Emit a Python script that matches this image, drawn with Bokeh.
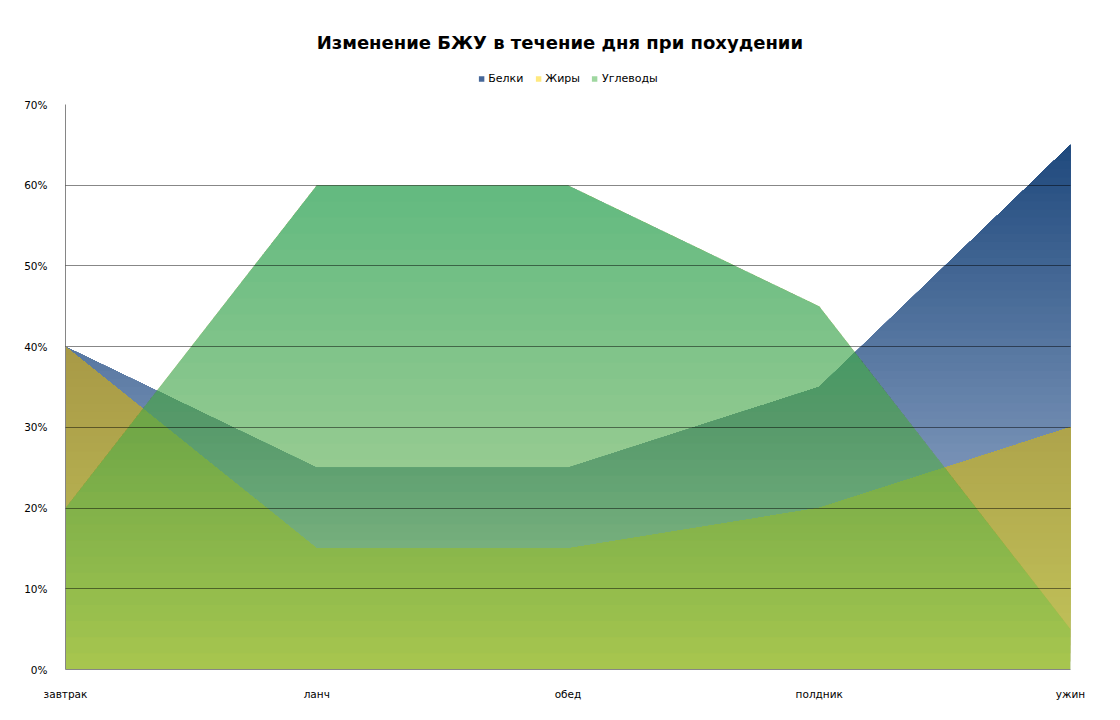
from bokeh.plotting import figure
from bokeh.layouts import column
from bokeh.models import FixedTicker, PrintfTickFormatter, Legend, LegendItem, Range1d, Label
from bokeh.embed import file_html
from bokeh.resources import INLINE

# ---- data ----
categories = ["завтрак", "ланч", "обед", "полдник", "ужин"]
series_names = ["Белки", "Жиры", "Углеводы"]
belki = [40, 25, 25, 35, 65]
zhiry = [40, 15, 15, 20, 30]
uglevody = [20, 60, 60, 45, 5]
y_ticks = [0, 10, 20, 30, 40, 50, 60, 70]
title_text = "Изменение БЖУ в течение дня при похудении"

# ---- styles ----
# opaque series: vertical gradient stops (y in %, r, g, b)
grad_belki = [(0, 176, 192, 218), (65, 31, 73, 125), (70, 31, 73, 125)]
grad_zhiry = [(0, 194, 196, 90), (40, 168, 153, 70), (70, 168, 153, 70)]
# translucent series: bottom colour/alpha and top colour/alpha
ugl_bottom = ((140, 200, 68), 0.50)
ugl_top = ((66, 176, 104), 0.72)
legend_colors = ["#466799", "#FFE97F", "#9FD7A0"]

FONT = "DejaVu Sans"
Y_MAX = 70
FRAME_H = 565
FRAME_W = 1005
W = 1112
HEAD_H = 94
step = 1.0       # layer step of the opaque gradients (in %)
ov_step = 2.0    # layer step of the translucent gradient (in %)


def grad_color(stops, y):
    for (y0, *c0), (y1, *c1) in zip(stops[:-1], stops[1:]):
        if y0 <= y <= y1:
            t = (y - y0) / (y1 - y0) if y1 > y0 else 0
            r, g, b = [a + (b_ - a) * t for a, b_ in zip(c0, c1)]
            return "#%02x%02x%02x" % (int(round(r)), int(round(g)), int(round(b)))
    r, g, b = stops[-1][1:]
    return "#%02x%02x%02x" % (r, g, b)


def band_polyline(xs, vs, lo, hi):
    px, py = [], []
    for i in range(len(xs)):
        if i > 0:
            x0, v0, x1, v1 = xs[i - 1], vs[i - 1], xs[i], vs[i]
            cross = []
            for lev in (lo, hi):
                if (v0 - lev) * (v1 - lev) < 0:
                    xc = x0 + (lev - v0) / (v1 - v0) * (x1 - x0)
                    cross.append((xc, lev))
            cross.sort()
            for xc, lev in cross:
                px.append(xc)
                py.append(lev)
        px.append(xs[i])
        py.append(min(max(vs[i], lo), hi))
    return px, py


# ---------------- header: title + legend ----------------
head = figure(width=W, height=HEAD_H, output_backend="svg", toolbar_location=None,
              x_range=Range1d(0, W), y_range=Range1d(0, HEAD_H),
              x_axis_type=None, y_axis_type=None, min_border=0)
head.outline_line_color = None
head.background_fill_color = "white"
head.border_fill_color = "white"
head.add_layout(Label(x=547, y=HEAD_H - 42, text=title_text, text_align="center",
                      text_baseline="middle", text_font=FONT, text_font_size="18px",
                      text_font_style="bold", text_color="#000000"))

xs = list(range(len(categories)))
items = []
for name, vals, col in zip(series_names, (belki, zhiry, uglevody), legend_colors):
    r = head.varea(x=xs, y1=vals, y2=vals, fill_color=col)
    items.append(LegendItem(label=name, renderers=[r]))
legend = Legend(items=items, orientation="horizontal", location="bottom_center",
                glyph_width=7, glyph_height=7, label_standoff=4, spacing=11,
                label_text_font=FONT, label_text_font_size="11px", label_text_color="#000000",
                border_line_color=None, background_fill_alpha=0, padding=2, margin=9,
                label_height=11)
head.add_layout(legend, "center")

# ---------------- main chart ----------------
p = figure(width=W, height=10 + FRAME_H + 43, output_backend="svg", toolbar_location=None,
           x_range=Range1d(0, len(categories) - 1), y_range=Range1d(0, Y_MAX),
           frame_width=FRAME_W, frame_height=FRAME_H,
           min_border_left=65, min_border_right=42, min_border_top=10, min_border_bottom=43)
p.background_fill_color = "white"
p.border_fill_color = "white"
p.outline_line_color = None

# opaque series: nested layers (each covers from its level up to the series top)
for vals, stops in ((belki, grad_belki), (zhiry, grad_zhiry)):
    top = max(vals)
    k = 0
    while k * step < top:
        lo = k * step
        bx, by = band_polyline(xs, vals, lo, top)
        p.varea(x=bx, y1=[lo] * len(bx), y2=by, fill_color=grad_color(stops, lo + step / 2))
        k += 1

# translucent series: base layer + nested faint overlays -> seamless vertical gradient
top = max(uglevody)
(c0, a0), (ct, at) = ugl_bottom, ugl_top
n_over = int(round(top / ov_step)) - 1
alpha_k = 1 - ((1 - at) / (1 - a0)) ** (1.0 / n_over)
alpha_k = max(1, round(alpha_k * 255)) / 255.0   # whole 8-bit alpha steps
keep = (1 - alpha_k) ** n_over
at_eff = 1 - (1 - a0) * keep
over_col = [min(255, max(0, (at_eff * t_ - keep * a0 * b_) / (1 - keep))) for t_, b_ in zip(ct, c0)]
over_hex = "#%02x%02x%02x" % tuple(int(round(v)) for v in over_col)
bx, by = band_polyline(xs, uglevody, 0, top)
p.varea(x=bx, y1=[0] * len(bx), y2=by, fill_color="#%02x%02x%02x" % c0, fill_alpha=a0)
for k in range(1, n_over + 1):
    lo = k * ov_step
    bx, by = band_polyline(xs, uglevody, lo, top)
    p.varea(x=bx, y1=[lo] * len(bx), y2=by, fill_color=over_hex, fill_alpha=alpha_k)

# axes
p.xaxis.ticker = FixedTicker(ticks=xs)
p.xaxis.major_label_overrides = {i: c for i, c in enumerate(categories)}
p.yaxis.ticker = FixedTicker(ticks=y_ticks)
p.yaxis.formatter = PrintfTickFormatter(format="%d%%")
for ax in (p.xaxis, p.yaxis):
    ax.axis_line_color = "#868686"
    ax.axis_line_width = 1
    ax.major_tick_line_color = None
    ax.minor_tick_line_color = None
    ax.major_label_text_font = FONT
    ax.major_label_text_font_size = "10.5px"
    ax.major_label_text_color = "#000000"
p.xaxis.major_label_standoff = 12
p.yaxis.major_label_standoff = 12

p.xgrid.grid_line_color = None
p.ygrid.grid_line_color = "#000000"
p.ygrid.grid_line_alpha = 0.47
p.ygrid.grid_line_width = 1
p.ygrid.level = "overlay"
p.ygrid.ticker = FixedTicker(ticks=y_ticks)

layout = column(head, p, spacing=0)
open("out.html", "w").write(file_html(layout, INLINE))
